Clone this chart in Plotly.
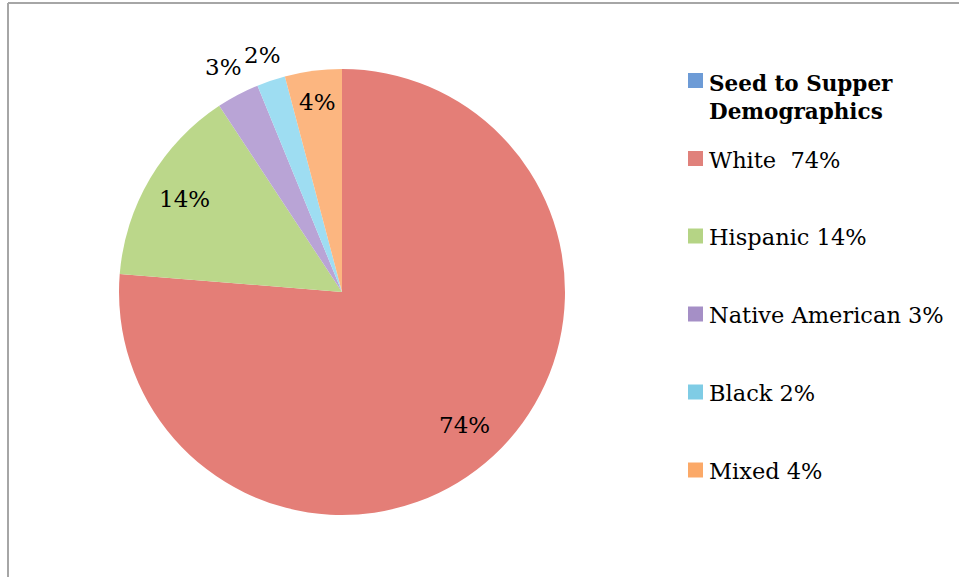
import math
import plotly.graph_objects as go

series_name = "Seed to Supper Demographics"
categories = ["White", "Hispanic", "Native American", "Black", "Mixed"]
values = [74, 14, 3, 2, 4]
legend_labels = ["White  74%", "Hispanic 14%", "Native American 3%", "Black 2%", "Mixed 4%"]

colors = ["#E47E77", "#BBD78A", "#B9A4D6", "#9EDDF2", "#FCB680"]
legend_colors = ["#E0817B", "#B5D485", "#A58FC6", "#7FCCE5", "#FBA968"]
series_color = "#6D9BD6"
font_family = "DejaVu Serif"

# label placement style: fraction of radius per slice
label_radius = [0.81, 0.82, 1.14, 1.12, 0.86]

W, H = 959, 577
cx, cy, r = 342, 292, 223

fig = go.Figure()
fig.add_trace(go.Pie(
    labels=categories,
    values=values,
    sort=False,
    direction="clockwise",
    rotation=0,
    marker=dict(colors=colors, line=dict(width=0)),
    textinfo="none",
    showlegend=False,
    hoverinfo="label+value",
    domain=dict(x=[(cx - r) / W, (cx + r) / W],
                y=[(H - cy - r) / H, (H - cy + r) / H]),
))

shapes = [
    dict(type="line", xref="paper", yref="paper", x0=8 / W, x1=1, y0=1 - 3 / H, y1=1 - 3 / H,
         line=dict(color="#A6A6A6", width=2)),
    dict(type="line", xref="paper", yref="paper", x0=8 / W, x1=8 / W, y0=0, y1=1 - 3 / H,
         line=dict(color="#A6A6A6", width=2)),
]
annotations = []

# data labels at the mid-angle of each slice
total = sum(values)
cum = 0
for v, k in zip(values, label_radius):
    mid = (cum + v / 2) / total * 2 * math.pi
    cum += v
    px = cx + k * r * math.sin(mid)
    py = cy - k * r * math.cos(mid)
    annotations.append(dict(xref="paper", yref="paper", x=px / W, y=1 - py / H,
                            xanchor="center", yanchor="middle", text=f"{v}%", showarrow=False,
                            font=dict(family=font_family, size=23, color="#000000")))

# legend (manual)
sq = 15
x_sq = 688
x_txt = 707
entries = [(series_name, series_color, 80.5, True)] + [
    (lbl, c, yc, False) for lbl, c, yc in zip(legend_labels, legend_colors, [158.5, 236, 314, 392, 470])
]
for text, col, yc, bold in entries:
    shapes.append(dict(type="rect", xref="paper", yref="paper",
                       x0=x_sq / W, x1=(x_sq + sq) / W,
                       y0=1 - (yc + sq / 2) / H, y1=1 - (yc - sq / 2) / H,
                       fillcolor=col, line=dict(width=0)))
    if bold:
        annotations.append(dict(xref="paper", yref="paper", x=x_txt / W, y=1 - (yc - 12) / H,
                                xanchor="left", yanchor="top", align="left",
                                text="<b>Seed to Supper<br>Demographics</b>", showarrow=False,
                                font=dict(family=font_family, size=21.5, color="#000000")))
    else:
        annotations.append(dict(xref="paper", yref="paper", x=x_txt / W, y=1 - (yc + 1) / H,
                                xanchor="left", yanchor="middle", text=text, showarrow=False,
                                font=dict(family=font_family, size=22.5, color="#000000")))

fig.update_layout(
    width=W, height=H,
    margin=dict(l=0, r=0, t=0, b=0),
    paper_bgcolor="#FFFFFF",
    plot_bgcolor="#FFFFFF",
    shapes=shapes,
    annotations=annotations,
    font=dict(family=font_family),
)

fig.write_html("out.html", config={"displayModeBar": False},
               post_script="document.body.style.margin='0';")
